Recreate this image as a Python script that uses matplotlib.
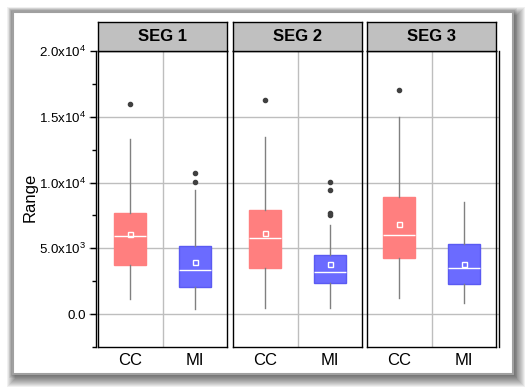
import matplotlib
matplotlib.use("Agg")
import matplotlib.pyplot as plt
from matplotlib.patches import Rectangle

plt.rcParams['font.family'] = ['Liberation Sans', 'DejaVu Sans']
plt.rcParams['mathtext.fontset'] = 'custom'
plt.rcParams['mathtext.rm'] = 'Liberation Sans'
plt.rcParams['mathtext.it'] = 'Liberation Sans'

# ---------------- data ----------------
segments = ["SEG 1", "SEG 2", "SEG 3"]
groups = ["CC", "MI"]
whislo = [[1170, 400], [480, 480], [1240, 860]]
q1 = [[3750, 2080], [3520, 2380], [4280, 2310]]
med = [[5910, 3320], [5760, 3190], [6010, 3470]]
q3 = [[7660, 5150], [7910, 4490], [8920, 5320]]
whishi = [[13300, 9430], [13480, 6770], [14960, 8490]]
means = [[6080, 3980], [6160, 3800], [6870, 3830]]
fliers = [[[16000], [10750, 10040]],
          [[16300], [10050, 9450, 7650, 7550]],
          [[17050], []]]
yticks_major = [0, 5000, 10000, 15000, 20000]
ytick_labels = ["0.0", r"5.0x10$^{3}$", r"1.0x10$^{4}$", r"1.5x10$^{4}$", r"2.0x10$^{4}$"]
yticks_minor = [-2500, 2500, 7500, 12500, 17500]
ylim = (-2500, 20000)

box_face = ["#FF7F7F", "#6B6BFF"]
box_edge = ["#FF7F7F", "#5A5AF2"]

W, H = 526, 387
fig = plt.figure(figsize=(W / 100, H / 100), dpi=100)


def rect_px(x0, y0, x1, y1):
    return [x0 / W, 1 - y1 / H, (x1 - x0) / W, (y1 - y0) / H]


# ---------- outer frame with shadow ----------
for i in range(9, 0, -1):
    fig.patches.append(Rectangle(((13 + 3 - i) / W, 1 - (374 + 4 + i) / H),
                                 (500 + 2 * i) / W, (362 + 2 * i) / H,
                                 transform=fig.transFigure, facecolor="#000000",
                                 alpha=0.06, edgecolor="none", zorder=-10))
for i in range(4, 0, -1):
    fig.patches.append(Rectangle(((13 - i) / W, 1 - (374 + i) / H),
                                 (500 + 2 * i) / W, (362 + 2 * i) / H,
                                 transform=fig.transFigure, facecolor="#000000",
                                 alpha=0.06, edgecolor="none", zorder=-10))
fig.patches.append(Rectangle((13 / W, 1 - 374 / H), 500 / W, 362 / H,
                             transform=fig.transFigure, facecolor="white",
                             edgecolor="#a0a0a0", linewidth=1.5, zorder=-9))

# ---------- background axes for horizontal gridlines ----------
bg = fig.add_axes(rect_px(89, 51, 499, 347), zorder=-1)
bg.set_facecolor("none")
bg.set_ylim(*ylim)
bg.set_xlim(0, 1)
for yv in yticks_major[:-1]:
    bg.axhline(yv, color="#BEBEBE", lw=1.0, zorder=0)
for s in ["left", "top", "bottom"]:
    bg.spines[s].set_visible(False)
bg.spines["right"].set_color("black")
bg.spines["right"].set_linewidth(1.0)
bg.set_xticks([])
bg.set_yticks([])

# ---------- y axis ----------
yax = fig.add_axes(rect_px(98, 51, 227, 347), zorder=0)
yax.set_facecolor("none")
yax.set_ylim(*ylim)
for s in ["right", "top", "bottom"]:
    yax.spines[s].set_visible(False)
yax.spines["left"].set_position(("outward", 1.6))
yax.spines["left"].set_linewidth(1.0)
yax.set_xticks([])
yax.set_yticks(yticks_major)
yax.set_yticklabels(ytick_labels, fontsize=9.6)
yax.set_yticks(yticks_minor, minor=True)
yax.tick_params(axis="y", which="major", length=4.5, width=1.0, direction="out", pad=2.5)
yax.tick_params(axis="y", which="minor", length=3.0, width=1.0, direction="out")

fig.text(30 / W, 1 - 197 / H, "Range", rotation=90, fontsize=12,
         ha="center", va="center")

# ---------- panels ----------
panel_x = [(98, 227), (233, 362), (367, 496)]
for k, seg in enumerate(segments):
    x0, x1 = panel_x[k]
    ax = fig.add_axes(rect_px(x0, 51, x1, 347), zorder=1)
    ax.set_facecolor("none")
    stats = []
    for g in range(len(groups)):
        stats.append(dict(whislo=whislo[k][g], q1=q1[k][g], med=med[k][g],
                          q3=q3[k][g], whishi=whishi[k][g], mean=means[k][g],
                          fliers=fliers[k][g], label=groups[g]))
    ax.axvline(0.5, color="#BEBEBE", lw=1.0, zorder=0)
    bp = ax.bxp(stats, positions=[0, 1], widths=0.5, patch_artist=True,
                showmeans=True, showcaps=False,
                whiskerprops=dict(color="#808080", lw=1.0),
                medianprops=dict(color="white", lw=1.0),
                meanprops=dict(marker="s", markersize=3.6, markerfacecolor="none",
                               markeredgecolor="white", markeredgewidth=1.0),
                flierprops=dict(marker="o", markersize=3.0, markerfacecolor="#404040",
                                markeredgecolor="#404040"))
    for g, patch in enumerate(bp["boxes"]):
        patch.set_facecolor(box_face[g])
        patch.set_edgecolor(box_edge[g])
        patch.set_linewidth(1.0)
    ax.set_xlim(-0.5, 1.5)
    ax.set_ylim(*ylim)
    ax.set_yticks([])
    ax.set_xticks([0, 1])
    ax.set_xticklabels(groups, fontsize=12)
    ax.tick_params(axis="x", length=0, pad=4.5)
    for s in ax.spines.values():
        s.set_linewidth(1.0)
        s.set_color("black")

    hd = fig.add_axes(rect_px(x0, 22, x1, 51), zorder=1)
    hd.set_facecolor("#C0C0C0")
    hd.set_xticks([])
    hd.set_yticks([])
    for s in hd.spines.values():
        s.set_linewidth(1.0)
    hd.text(0.5, 0.5, seg, ha="center", va="center", fontsize=12,
            fontweight="bold", transform=hd.transAxes)

fig.savefig("out.png", dpi=100)
